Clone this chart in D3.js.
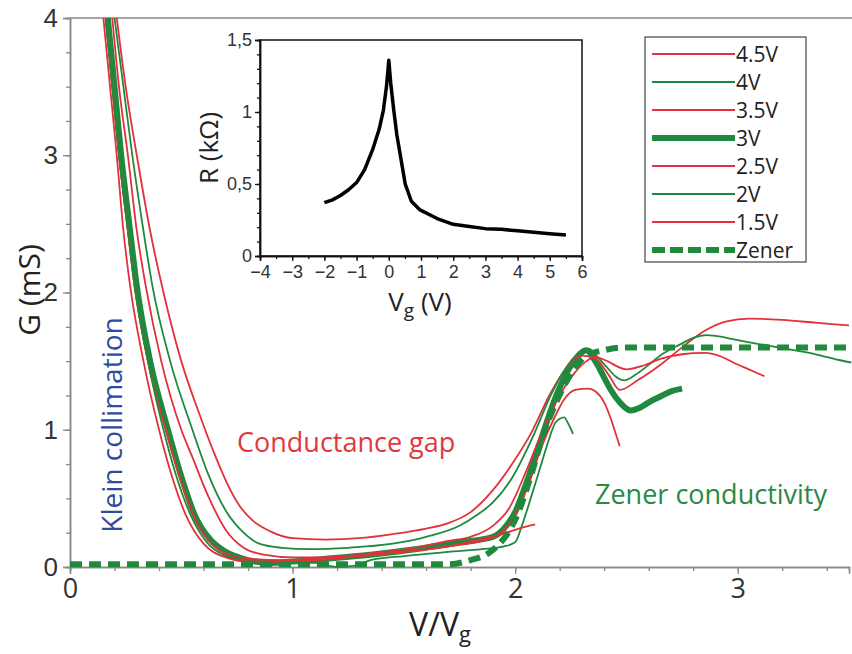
<!DOCTYPE html>
<html>
<head>
<meta charset="utf-8">
<script src="https://cdn.jsdelivr.net/npm/d3@7"></script>
<style>
  body { margin: 0; background: #fff; }
  svg { display: block; font-family: "Open Sans", "DejaVu Sans", sans-serif; }
</style>
</head>
<body>
<div id="chart"></div>
<script>
// G (mS) versus V/Vg, one series per bias voltage, [V/Vg, G]
var v45 = [[0.21,4.0],[0.25,3.5],[0.30,3.0],[0.36,2.45],[0.42,2.0],[0.50,1.5],[0.58,1.12],[0.65,0.82],[0.70,0.63],[0.76,0.45],[0.82,0.34],[0.90,0.26],[1.0,0.21],[1.15,0.2],[1.3,0.21],[1.45,0.24],[1.6,0.28],[1.7,0.32],[1.8,0.4],[1.9,0.56],[1.99,0.76],[2.07,0.97],[2.16,1.27],[2.23,1.45],[2.3,1.54],[2.36,1.52],[2.42,1.4],[2.47,1.29],[2.55,1.36],[2.65,1.47],[2.75,1.6],[2.85,1.72],[2.95,1.79],[3.05,1.81],[3.2,1.80],[3.35,1.78],[3.5,1.76]];
var v4 = [[0.20,4.0],[0.24,3.5],[0.28,3.0],[0.33,2.45],[0.37,2.05],[0.45,1.5],[0.55,1.0],[0.62,0.68],[0.70,0.41],[0.78,0.25],[0.85,0.17],[0.95,0.14],[1.08,0.13],[1.25,0.14],[1.45,0.17],[1.6,0.22],[1.75,0.3],[1.83,0.38],[1.9,0.47],[1.99,0.66],[2.08,0.95],[2.16,1.25],[2.22,1.43],[2.28,1.55],[2.33,1.59],[2.37,1.53],[2.41,1.46],[2.45,1.39],[2.49,1.36],[2.54,1.4],[2.59,1.46],[2.66,1.55],[2.74,1.62],[2.80,1.67],[2.86,1.69],[2.95,1.67],[3.04,1.64],[3.15,1.61],[3.25,1.58],[3.35,1.55],[3.45,1.51],[3.51,1.49]];
var v35 = [[0.19,4.0],[0.22,3.5],[0.26,3.0],[0.30,2.45],[0.34,2.05],[0.41,1.5],[0.50,1.0],[0.55,0.8],[0.62,0.52],[0.70,0.27],[0.78,0.14],[0.87,0.09],[1.0,0.07],[1.15,0.07],[1.35,0.1],[1.55,0.14],[1.7,0.19],[1.8,0.22],[1.9,0.3],[1.97,0.42],[2.05,0.7],[2.12,0.98],[2.2,1.25],[2.27,1.42],[2.32,1.5],[2.36,1.53],[2.40,1.51],[2.50,1.44],[2.58,1.47],[2.66,1.52],[2.75,1.55],[2.85,1.56],[2.93,1.53],[2.98,1.49],[3.05,1.44],[3.12,1.39]];
var v3 = [[0.17,4.0],[0.20,3.5],[0.23,3.0],[0.27,2.45],[0.30,2.05],[0.36,1.5],[0.44,1.0],[0.50,0.66],[0.56,0.38],[0.63,0.2],[0.70,0.11],[0.8,0.05],[0.9,0.03],[1.0,0.04],[1.15,0.06],[1.35,0.09],[1.55,0.13],[1.75,0.18],[1.9,0.22],[1.96,0.3],[2.0,0.4],[2.05,0.61],[2.11,0.9],[2.19,1.27],[2.26,1.49],[2.32,1.58],[2.36,1.5],[2.40,1.38],[2.43,1.29],[2.47,1.2],[2.52,1.14],[2.56,1.16],[2.6,1.2],[2.65,1.24],[2.7,1.28],[2.75,1.30]];
var v25 = [[0.16,4.0],[0.19,3.5],[0.22,3.0],[0.26,2.45],[0.29,2.05],[0.35,1.5],[0.43,1.0],[0.50,0.62],[0.56,0.36],[0.63,0.18],[0.7,0.1],[0.8,0.06],[0.95,0.05],[1.1,0.06],[1.3,0.08],[1.5,0.11],[1.7,0.15],[1.85,0.19],[1.93,0.24],[2.0,0.38],[2.06,0.6],[2.12,0.88],[2.18,1.1],[2.22,1.22],[2.27,1.29],[2.33,1.30],[2.36,1.28],[2.40,1.2],[2.43,1.08],[2.45,0.98],[2.47,0.88]];
var v2 = [[0.16,4.0],[0.19,3.5],[0.22,3.0],[0.26,2.45],[0.29,2.05],[0.35,1.5],[0.42,1.0],[0.48,0.65],[0.55,0.35],[0.62,0.17],[0.7,0.08],[0.8,0.04],[0.95,0.03],[1.1,0.03],[1.2,0.0],[1.28,0.01],[1.35,0.05],[1.5,0.08],[1.7,0.11],[1.85,0.13],[1.95,0.15],[2.0,0.18],[2.03,0.3],[2.07,0.5],[2.11,0.71],[2.15,0.92],[2.18,1.05],[2.2,1.08],[2.22,1.09],[2.24,1.04],[2.26,0.97]];
var v15 = [[0.15,4.0],[0.18,3.5],[0.21,3.0],[0.24,2.45],[0.27,2.05],[0.33,1.5],[0.40,1.0],[0.46,0.65],[0.52,0.38],[0.6,0.17],[0.7,0.07],[0.8,0.04],[0.95,0.04],[1.1,0.05],[1.3,0.08],[1.5,0.11],[1.7,0.15],[1.84,0.2],[1.92,0.23],[1.98,0.26],[2.04,0.29],[2.09,0.31]];
var zener = [[0,0.02],[0.5,0.02],[1.0,0.02],[1.5,0.02],[1.7,0.02],[1.8,0.05],[1.88,0.1],[1.93,0.17],[1.98,0.28],[2.02,0.42],[2.07,0.66],[2.13,0.98],[2.19,1.22],[2.26,1.43],[2.32,1.54],[2.4,1.58],[2.5,1.6],[2.7,1.6],[3.0,1.6],[3.5,1.6]];

// inset: R (kOhm) versus Vg (V)
var insetR = [[-2.0,0.37],[-1.75,0.39],[-1.5,0.42],[-1.25,0.46],[-1.0,0.51],[-0.75,0.6],[-0.5,0.74],[-0.3,0.88],[-0.17,1.01],[-0.07,1.18],[0.0,1.36],[0.06,1.2],[0.15,1.02],[0.25,0.84],[0.35,0.71],[0.51,0.5],[0.7,0.38],[0.97,0.32],[1.5,0.26],[2.0,0.22],[2.5,0.205],[3.0,0.19],[3.5,0.185],[4.0,0.175],[4.5,0.165],[5.0,0.155],[5.5,0.146]];

var legendLabels = ['4.5V', '4V', '3.5V', '3V', '2.5V', '2V', '1.5V', 'Zener'];
var xTicks = [0, 1, 2, 3];
var yTicks = [0, 1, 2, 3, 4];
var insetXTicks = [-4, -3, -2, -1, 0, 1, 2, 3, 4, 5, 6];
var insetYTicks = [0, 0.5, 1, 1.5];

var red = '#e3303a';
var green = '#1f8a3d';

var series = [
    { name: '4.5V', data: v45, color: red, width: 1.8 },
    { name: '4V', data: v4, color: green, width: 1.8 },
    { name: '3.5V', data: v35, color: red, width: 1.8 },
    { name: '3V', data: v3, color: green, width: 6 },
    { name: '2.5V', data: v25, color: red, width: 1.8 },
    { name: '2V', data: v2, color: green, width: 1.8 },
    { name: '1.5V', data: v15, color: red, width: 1.8 },
    { name: 'Zener', data: zener, color: green, width: 6, dash: '12,7' }
];

var svg = d3.select('#chart')
    .append('svg')
    .attr('width', 852)
    .attr('height', 654);

var x = d3.scaleLinear().domain([0, 3.5]).range([70, 849]);
var y = d3.scaleLinear().domain([0, 4]).range([567, 18]);

// frame top
svg.append('line')
    .attr('x1', 70).attr('x2', 852)
    .attr('y1', y(4)).attr('y2', y(4))
    .attr('stroke', '#888').attr('stroke-width', 1.5);

function styleAxis(g, color) {
    g.select('.domain').attr('stroke', color).attr('stroke-width', 1.5);
    g.selectAll('.tick line').attr('stroke', color).attr('stroke-width', 1.3);
}

// minor ticks first
svg.append('g')
    .attr('transform', 'translate(0,' + y(0) + ')')
    .call(d3.axisBottom(x).tickValues(d3.range(0, 3.51, 0.2)).tickSize(4).tickFormat(''))
    .call(styleAxis, '#888');
svg.append('g')
    .attr('transform', 'translate(' + x(0) + ',0)')
    .call(d3.axisLeft(y).tickValues(d3.range(0, 4.01, 0.25)).tickSize(4).tickFormat(''))
    .call(styleAxis, '#888');

var xAxis = svg.append('g')
    .attr('transform', 'translate(0,' + y(0) + ')')
    .call(d3.axisBottom(x).tickValues(xTicks).tickSize(7).tickPadding(5).tickFormat(d3.format('d')))
    .call(styleAxis, '#888');
xAxis.selectAll('text')
    .attr('fill', '#333')
    .style('font-family', '"Liberation Sans Narrow", "Open Sans", sans-serif')
    .style('font-size', '27px');

var yAxis = svg.append('g')
    .attr('transform', 'translate(' + x(0) + ',0)')
    .call(d3.axisLeft(y).tickValues(yTicks).tickSize(7).tickPadding(5).tickFormat(d3.format('d')))
    .call(styleAxis, '#888');
yAxis.selectAll('text')
    .attr('fill', '#333')
    .style('font-size', '26px');

// axis titles
svg.append('text')
    .attr('transform', 'translate(40,290) rotate(-90)')
    .attr('text-anchor', 'middle')
    .attr('fill', '#222')
    .style('font-size', '30px')
    .text('G (mS)');

var xt = svg.append('text')
    .attr('x', 440).attr('y', 636)
    .attr('text-anchor', 'middle')
    .attr('fill', '#222')
    .style('font-family', '"Liberation Sans Narrow", "Open Sans", sans-serif')
    .style('font-size', '32px');
xt.append('tspan').text('V/V');
xt.append('tspan').attr('dy', 6).style('font-size', '22px').text('g');

// annotations
svg.append('text')
    .attr('transform', 'translate(122,425) rotate(-90)')
    .attr('text-anchor', 'middle')
    .attr('fill', '#2e4b9c')
    .style('font-size', '28px')
    .text('Klein collimation');

svg.append('text')
    .attr('x', 237).attr('y', 452)
    .attr('fill', '#e0383e')
    .style('font-size', '27px')
    .text('Conductance gap');

svg.append('text')
    .attr('x', 595).attr('y', 504)
    .attr('fill', '#2a8a45')
    .style('font-size', '27px')
    .text('Zener conductivity');

// curves
var line = d3.line()
    .x(function(d) { return x(d[0]); })
    .y(function(d) { return y(d[1]); })
    .curve(d3.curveMonotoneX);

var drawOrder = [3, 0, 1, 2, 4, 5, 6, 7];
svg.append('g')
    .selectAll('path')
    .data(drawOrder.map(function(i) { return series[i]; }))
    .enter()
    .append('path')
    .attr('d', function(d) { return line(d.data); })
    .attr('fill', 'none')
    .attr('stroke', function(d) { return d.color; })
    .attr('stroke-width', function(d) { return d.width; })
    .attr('stroke-dasharray', function(d) { return d.dash || null; })
    .attr('stroke-linejoin', 'round');

// inset
var ix = d3.scaleLinear().domain([-4, 6]).range([260, 582]);
var iy = d3.scaleLinear().domain([0, 1.5]).range([256, 40]);

svg.append('rect')
    .attr('x', ix(-4)).attr('y', iy(1.5))
    .attr('width', ix(6) - ix(-4)).attr('height', iy(0) - iy(1.5))
    .attr('fill', '#fff').attr('stroke', '#111').attr('stroke-width', 1.5);

svg.append('g')
    .attr('transform', 'translate(0,' + iy(0) + ')')
    .call(d3.axisBottom(ix).tickValues(d3.range(-4, 6.01, 0.5)).tickSize(3).tickFormat(''))
    .call(styleAxis, '#111');
svg.append('g')
    .attr('transform', 'translate(' + ix(-4) + ',0)')
    .call(d3.axisLeft(iy).tickValues(d3.range(0, 1.51, 0.1)).tickSize(3).tickFormat(''))
    .call(styleAxis, '#111');

var ixAxis = svg.append('g')
    .attr('transform', 'translate(0,' + iy(0) + ')')
    .call(d3.axisBottom(ix).tickValues(insetXTicks).tickSize(5).tickPadding(4))
    .call(styleAxis, '#111');
ixAxis.selectAll('text').attr('fill', '#333').style('font-size', '18px');

var iyAxis = svg.append('g')
    .attr('transform', 'translate(' + ix(-4) + ',0)')
    .call(d3.axisLeft(iy).tickValues(insetYTicks).tickSize(5).tickPadding(3)
        .tickFormat(function(d) { return String(d).replace('.', ','); }))
    .call(styleAxis, '#111');
iyAxis.selectAll('text').attr('fill', '#333').style('font-size', '18px');

svg.append('text')
    .attr('transform', 'translate(218,148) rotate(-90)')
    .attr('text-anchor', 'middle')
    .attr('fill', '#222')
    .style('font-size', '26px')
    .text('R (kΩ)');

var ixt = svg.append('text')
    .attr('x', 420).attr('y', 311)
    .attr('text-anchor', 'middle')
    .attr('fill', '#222')
    .style('font-size', '26px');
ixt.append('tspan').text('V');
ixt.append('tspan').attr('dy', 6).style('font-size', '19px').text('g');
ixt.append('tspan').attr('dy', -6).text(' (V)');

svg.append('path')
    .attr('d', d3.line()
        .x(function(d) { return ix(d[0]); })
        .y(function(d) { return iy(d[1]); })(insetR))
    .attr('fill', 'none')
    .attr('stroke', '#000')
    .attr('stroke-width', 3.5)
    .attr('stroke-linejoin', 'round');

// legend
var legend = svg.append('g');
legend.append('rect')
    .attr('x', 645).attr('y', 37)
    .attr('width', 161).attr('height', 225)
    .attr('fill', '#fff').attr('stroke', '#444').attr('stroke-width', 1.2);

var rows = legend.selectAll('.legend-row')
    .data(series)
    .enter()
    .append('g')
    .classed('legend-row', true)
    .attr('transform', function(d, i) { return 'translate(0,' + (54 + i * 28) + ')'; });

rows.append('line')
    .attr('x1', 652).attr('x2', 735)
    .attr('stroke', function(d) { return d.color; })
    .attr('stroke-width', function(d) { return d.width; })
    .attr('stroke-dasharray', function(d) { return d.dash ? '13,5' : null; });

rows.append('text')
    .attr('x', 736).attr('y', 0)
    .attr('dy', '0.36em')
    .attr('fill', '#222')
    .style('font-size', '21px')
    .text(function(d, i) { return legendLabels[i]; });
</script>
</body>
</html>
